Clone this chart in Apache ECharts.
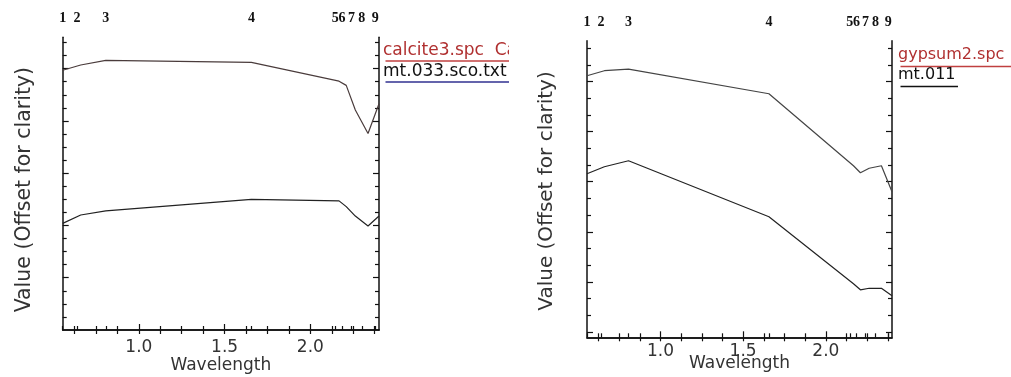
<!DOCTYPE html>
<html>
<head>
<meta charset="utf-8">
<title>Spectra at ASTER bands</title>
<script src="https://cdn.jsdelivr.net/npm/echarts@6/dist/echarts.min.js"></script>
<style>
html, body { margin: 0; padding: 0; background: #fff; }
#left  { position: absolute; left: 0; top: 0; width: 509px; height: 377px; }
#right { position: absolute; left: 509px; top: 0; width: 502px; height: 377px; }
</style>
</head>
<body>
<div id="left"></div>
<div id="right"></div>
<script>
// band centres (um) the spectra are sampled at
var bandCenters = [0.556, 0.661, 0.807, 1.656, 2.167, 2.209, 2.262, 2.336, 2.400];
// where the band numbers are marked on the top axis
var bandMarks = [0.556, 0.64, 0.807, 1.656, 2.145, 2.185, 2.24, 2.30, 2.378];
var bandNames = ['1', '2', '3', '4', '5', '6', '7', '8', '9'];
var xLabels = [1.0, 1.5, 2.0];
var xMinor = [0.625, 0.75, 0.875, 1.125, 1.25, 1.375, 1.625, 1.75, 1.875, 2.125, 2.25, 2.375];

// left panel: calcite
var calciteLib = [4.97, 5.07, 5.16, 5.12, 4.76, 4.68, 4.21, 3.76, 4.33];
var calciteImg = [2.04, 2.20, 2.28, 2.50, 2.47, 2.36, 2.18, 1.99, 2.18];
var leftNames = ['calcite3.spc  Calcite', 'mt.033.sco.txt'];
var leftYMajor = [1, 2, 3, 4, 5];
var leftYMinor = [0.25, 0.5, 0.75, 1.25, 1.5, 1.75, 2.25, 2.5, 2.75, 3.25, 3.5, 3.75, 4.25, 4.5, 4.75, 5.25, 5.5];

// right panel: gypsum
var gypsumLib = [5.23, 5.33, 5.36, 4.87, 3.43, 3.29, 3.38, 3.43, 2.91];
var gypsumImg = [3.27, 3.41, 3.53, 2.41, 1.07, 0.95, 0.98, 0.98, 0.83];
var rightNames = ['gypsum2.spc  Gypsum', 'mt.011'];
var rightYMajor = [0.11, 1.11, 2.11, 3.11, 4.11, 5.11];
var rightYMinor = [0.44, 0.78, 1.44, 1.78, 2.44, 2.78, 3.44, 3.78, 4.44, 4.78, 5.44, 5.78];

function zip(xs, ys) {
    return xs.map(function (x, i) { return [x, ys[i]]; });
}

var measureCtx = document.createElement('canvas').getContext('2d');
function textWidth(t, size) {
    measureCtx.font = size + 'px "DejaVu Sans"';
    return measureCtx.measureText(t).width;
}

function makeChart(id, o) {
    var chart = echarts.init(document.getElementById(id));
    var line = { show: true, lineStyle: { color: '#111', width: 1.5 } };
    var noLine = { show: false };
    var xBase = { type: 'value', min: 0.556, max: 2.4, splitLine: { show: false } };
    var yBase = { type: 'value', min: 0, max: o.yMax, splitLine: { show: false }, axisLabel: { show: false } };
    var tick = function (vals, len, inside) {
        return { show: true, inside: inside, length: len, customValues: vals, lineStyle: { color: '#111', width: 1.2 } };
    };

    var graphic = [];
    o.names.forEach(function (n, i) {
        var base = o.legendBase[i];
        var w = textWidth(n, o.legendSize);
        graphic.push({
            type: 'text', left: o.legendLeft, top: base - 0.85 * o.legendSize,
            style: { text: n, fill: o.legendText[i], font: o.legendSize + 'px "DejaVu Sans"' }
        });
        graphic.push({
            type: 'line', left: o.legendLeft, top: base + o.underGap,
            shape: { x1: 0, y1: 0, x2: w, y2: 0 },
            style: { stroke: o.legendLine[i], lineWidth: 1.5 }
        });
    });

    chart.setOption({
        animation: false,
        grid: Object.assign({ containLabel: false, outerBoundsMode: 'none' }, o.grid),
        xAxis: [
            Object.assign({}, xBase, {
                position: 'bottom', axisLine: line,
                name: 'Wavelength', nameLocation: 'middle', nameGap: o.xNameGap, nameMoveOverlap: false,
                nameTextStyle: { fontFamily: 'DejaVu Sans', fontSize: 17, color: '#333' },
                axisTick: tick(xMinor, 4, true),
                axisLabel: {
                    customValues: xLabels, margin: o.xLabelMargin,
                    fontFamily: 'DejaVu Sans', fontSize: 17, color: '#333',
                    formatter: function (v) { return v.toFixed(1); }
                }
            }),
            Object.assign({}, xBase, {
                position: 'bottom', axisLine: noLine,
                axisTick: tick(xLabels, 6, true), axisLabel: { show: false }
            }),
            Object.assign({}, xBase, {
                position: 'top', axisLine: line,
                axisTick: tick(xMinor.concat(xLabels), 4, true), axisLabel: { show: false }
            }),
            Object.assign({}, xBase, {
                position: 'top', axisLine: noLine,
                axisTick: tick(bandMarks, 4, false),
                axisLabel: {
                    customValues: bandMarks, margin: o.bandMargin,
                    fontFamily: 'Liberation Serif', fontWeight: 'bold', fontSize: 14, color: '#111',
                    formatter: function (v) { return bandNames[bandMarks.indexOf(v)]; }
                }
            })
        ],
        yAxis: [
            Object.assign({}, yBase, {
                position: 'left', axisLine: line,
                name: 'Value (Offset for clarity)', nameLocation: 'middle', nameGap: o.yNameGap, nameMoveOverlap: false,
                nameTextStyle: {
                    fontFamily: 'DejaVu Sans', fontSize: o.yNameSize, color: '#333',
                    padding: [0, o.yNameShift * 2, 0, 0]
                },
                axisTick: tick(o.yMajor, 6, true)
            }),
            Object.assign({}, yBase, { position: 'left', axisLine: noLine, axisTick: tick(o.yMinor, 4, true) }),
            Object.assign({}, yBase, { position: 'right', axisLine: line, axisTick: tick(o.yMajor, 6, true) }),
            Object.assign({}, yBase, { position: 'right', axisLine: noLine, axisTick: tick(o.yMinor, 4, true) })
        ],
        graphic: graphic,
        series: o.series.map(function (s, i) {
            return {
                type: 'line', name: o.names[i], data: zip(bandCenters, s),
                xAxisIndex: 0, yAxisIndex: 0, symbol: 'none',
                lineStyle: { color: o.lineColors[i], width: 1.2 }
            };
        })
    });
}

makeChart('left', {
    grid: { left: 62.7, right: 509 - 379, top: 37.3, bottom: 377 - 330 },
    yMax: 5.6, yMajor: leftYMajor, yMinor: leftYMinor,
    xNameGap: 27, xLabelMargin: 9, bandMargin: 12, yNameGap: 28, yNameSize: 20.5, yNameShift: 6,
    names: leftNames, series: [calciteLib, calciteImg],
    lineColors: ['#4a3c3c', '#222'],
    legendLeft: 383, legendBase: [57, 78], legendSize: 17, underGap: 1.5,
    legendText: ['#b03030', '#111'], legendLine: ['#c04040', '#303090']
});

makeChart('right', {
    grid: { left: 587 - 509, right: 1011 - 892, top: 40.7, bottom: 377 - 337.3 },
    yMax: 5.93, yMajor: rightYMajor, yMinor: rightYMinor,
    xNameGap: 18, xLabelMargin: 6, bandMargin: 11, yNameGap: 30, yNameSize: 20, yNameShift: 2,
    names: rightNames, series: [gypsumLib, gypsumImg],
    lineColors: ['#444', '#222'],
    legendLeft: 898 - 509, legendBase: [60, 80], legendSize: 16, underGap: 4,
    legendText: ['#b03030', '#111'], legendLine: ['#c04040', '#111']
});
</script>
</body>
</html>
